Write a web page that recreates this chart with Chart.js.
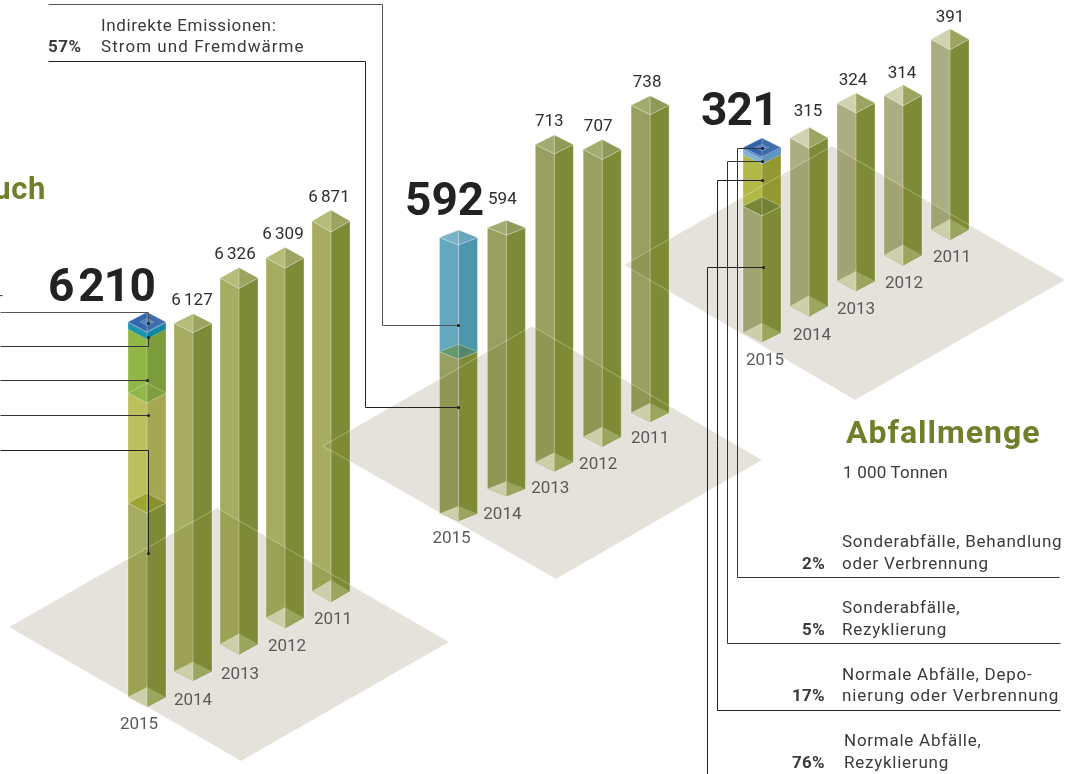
<!DOCTYPE html>
<html lang="de">
<head>
<meta charset="utf-8">
<title>Energieverbrauch, Emissionen, Abfallmenge</title>
<script src="https://cdn.jsdelivr.net/npm/chart.js@4"></script>
<style>
html,body{margin:0;padding:0;width:1066px;height:774px;background:#fff;overflow:hidden}
#stage{position:relative;width:1066px;height:774px;overflow:hidden;font-family:Roboto,sans-serif}
canvas{position:absolute;left:0;top:0}
.t{position:absolute;white-space:nowrap;line-height:1.2;color:#3a3a3a;z-index:10}
</style>
</head>
<body>
<div id="stage"></div>
<script>
// ---- data ----
const years = ["2015", "2014", "2013", "2012", "2011"];

// printed values
const energyValues = ["6 210", "6 127", "6 326", "6 309", "6 871"];
const emissionValues = ["592", "594", "713", "707", "738"];
const wasteValues = ["321", "315", "324", "314", "391"];

// bar heights as the source graphic draws them, in axis units of each panel
// (the graphic is not strictly to scale, so they differ a little from the printed values)
const energyBase = [3213, 5763, 6061, 5961, 6127];
const energySeg2 = [1821, null, null, null, null];
const energySeg3 = [1060, null, null, null, null];
const energySeg4 = [99, null, null, null, null];
const energySeg5 = [17, null, null, null, null];

const emissionBase = [347, 560, 681, 616, 659];
const emissionSeg2 = [245, null, null, null, null];

const wasteBase = [219, 292, 309, 277, 330];
const wasteSeg2 = [90, null, null, null, null];
const wasteSeg3 = [10, null, null, null, null];
const wasteSeg4 = [2, null, null, null, null];

// ---- styles and layout ----
const olive1 = {l:"rgba(114,125,6,.63)", r:"rgba(122,135,48,.97)", tl:"#b6bb78", tr:"#9ca45f", bl:"#cdcfab", br:"#9aa55e", show:true};
const olive2 = {l:"rgba(104,113,20,.68)", r:"rgba(122,135,48,.97)", tl:"#a4ab70", tr:"#8f9a58", bl:"#cdcfab", br:"#9aa55e", show:true};
const olive3 = {l:"rgba(120,125,50,.62)", r:"rgba(122,135,48,.97)", tl:"#d0d2b0", tr:"#9ca45f", bl:"#cdcfab", br:"#9aa55e", show:true};

const panels = [
  { series:[energyBase, energySeg2, energySeg3, energySeg4, energySeg5], values:energyValues, total:6210, drawnPx:375,
    x0:147, step:46, base0:707, lift:26.25, depth:[10,9.5,10.5,10.5,11], vdx:[0,-1,-4,-2,-2], vgap:[0,9,8,8,8], ydx:[-8,0,1,2,2], yb:[22,24,24,23,22],
    main:[olive1,olive1,olive1,olive1,olive1],
    segs:[{l:"rgba(114,125,6,.63)",r:"rgba(122,135,48,.97)",tl:"#9ca534",tr:"#88912f",bl:"#cdcfab",br:"#9aa55e",show:true},
          {l:"#bbc05c",r:"#a5a852",tl:"#93b74a",tr:"#7f9f3e",show:true},
          {l:"#90b645",r:"#7b9c3b"},
          {l:"#1596ae",r:"#0f87a3"},
          {l:"#2f62ac",r:"#2f62ac",tl:"#3368b0",tr:"#3e6eae",show:true,inner:true}] },
  { series:[emissionBase, emissionSeg2], values:emissionValues, total:592, drawnPx:276,
    x0:458.5, step:47.9, base0:521, lift:24.75, depth:[7.5,7.5,9.5,10,9.5], vdx:[0,-4,-5,-4,-3], vgap:[0,16,9,9,9], ydx:[-7,-4,-4,-4,0], yb:[22,23,21,22,21],
    main:[olive2,olive2,olive2,olive2,olive2],
    segs:[{l:"rgba(104,113,20,.68)",r:"rgba(122,135,48,.97)",tl:"#66986e",tr:"#55876f",bl:"#cdcfab",br:"#9aa55e",show:true},
          {l:"#63a8bc",r:"#4e96ac",tl:"#7ab3c8",tr:"#68a5ba",show:true}] },
  { series:[wasteBase, wasteSeg2, wasteSeg3, wasteSeg4], values:wasteValues, total:321, drawnPx:185,
    x0:762, step:47, base0:342, lift:25.5, depth:[9.5,10.5,10,10.5,10.5], vdx:[0,-1,-3,-1,0], vgap:[0,11,8,7,7], ydx:[3,3,0,1,2], yb:[23,23,23,22,22],
    main:[olive3,olive3,olive3,olive3,olive3],
    segs:[{l:"rgba(120,125,50,.62)",r:"rgba(122,135,48,.97)",tl:"#7a8637",tr:"#748033",bl:"#cdcfab",br:"#9aa55e",show:true},
          {l:"#b2b846",r:"#949832"},
          {l:"#82b4d8",r:"#5f96bf"},
          {l:"#2f62ac",r:"#2f62ac",tl:"#3264ae",tr:"#3e6eae",show:true,inner:true}] }
];

const floors = [
  [[9,627],[217,508],[449,642],[241,761]],
  [[323,446],[532,326],[762,460],[556,579]],
  [[624,265],[832,146],[1065,280],[855,400]]
];

// leader lines: annotation paths, the last point carries the dot
const leaders = [
  {c:"#555", p:[[48,4],[382,4],[382,325],[458,325]]},
  {c:"#222", p:[[48,61],[365,61],[365,407],[458,407]]},
  {c:"#555", p:[[0,312],[148,312],[148,323]]},
  {c:"#333", p:[[0,346],[148,346],[148,337]]},
  {c:"#333", p:[[0,380],[147,380]]},
  {c:"#333", p:[[0,415],[148,415]]},
  {c:"#222", p:[[0,450],[148,450],[148,553]]},
  {c:"#333", p:[[1059,577],[737,577],[737,148],[762,148]]},
  {c:"#333", p:[[1060,643],[727,643],[727,161],[762,161]]},
  {c:"#222", p:[[1060,710],[717,710],[717,180],[762,180]]},
  {c:"#222", p:[[707,774],[707,267],[763,267]]}
];

const olive = "#70802a", ink = "#222220";
const texts = [
  {t:"Energieverbrauch", r:46, b:199, s:31, w:700, c:olive, ls:.6},
  {t:"-", x:-1, b:300, s:14, c:"#444"},
  {t:"6 210", x:48, b:301, s:46, w:700, c:ink, ws:-6, ls:-.8},
  {t:"592", x:405, b:215, s:46, w:700, c:ink},
  {t:"321", x:701, b:125, s:46, w:700, c:ink, ls:-.8},
  {t:"Indirekte Emissionen:", x:101, b:31, s:17, ls:.65},
  {t:"Strom und Fremdwärme", x:101, b:52, s:17, ls:1.05},
  {t:"57%", x:48, b:52, s:17, w:700, ls:.5},
  {t:"Abfallmenge", x:846, b:443, s:32, w:700, c:olive, ls:1},
  {t:"1 000 Tonnen", x:843, b:478, s:17, ls:.2},
  {t:"Sonderabfälle, Behandlung", x:842, b:547, s:17, ls:.75},
  {t:"oder Verbrennung", x:842, b:569, s:17, ls:.75},
  {t:"2%", r:825, b:569, s:17, w:700, ls:.3},
  {t:"Sonderabfälle,", x:842, b:613, s:17, ls:.75},
  {t:"Rezyklierung", x:842, b:635, s:17, ls:.75},
  {t:"5%", r:825, b:635, s:17, w:700, ls:.3},
  {t:"Normale Abfälle, Depo-", x:842, b:680, s:17, ls:.75},
  {t:"nierung oder Verbrennung", x:842, b:701, s:17, ls:.9},
  {t:"17%", r:825, b:701, s:17, w:700, ls:.3},
  {t:"Normale Abfälle,", x:844, b:746, s:17, ls:.75},
  {t:"Rezyklierung", x:844, b:768, s:17, ls:.75},
  {t:"76%", r:825, b:768, s:17, w:700, ls:.3}
];

const W = 1066, H = 774, BAR = 38;
const stage = document.getElementById("stage");

texts.forEach(o => {
  const d = document.createElement("div");
  d.className = "t";
  d.textContent = o.t;
  d.style.fontSize = o.s + "px";
  d.style.fontWeight = o.w || 400;
  d.style.top = (o.b - 0.941 * o.s) + "px";
  if (o.r !== undefined) d.style.right = (W - o.r) + "px"; else d.style.left = o.x + "px";
  if (o.c) d.style.color = o.c;
  if (o.ls !== undefined) d.style.letterSpacing = o.ls + "px";
  if (o.ws) d.style.wordSpacing = o.ws + "px";
  stage.appendChild(d);
});

function poly(ctx, pts, fill, stroke) {
  ctx.beginPath();
  pts.forEach((p, i) => i ? ctx.lineTo(p[0], p[1]) : ctx.moveTo(p[0], p[1]));
  ctx.closePath();
  if (fill) { ctx.fillStyle = fill; ctx.fill(); }
  if (stroke) { ctx.strokeStyle = stroke; ctx.lineWidth = .7; ctx.stroke(); }
}

function drawFloors(ctx) { floors.forEach(f => poly(ctx, f, "#e4e2da")); }

function drawFloorEdges(ctx) {
  floors.forEach(f => poly(ctx, f, null, "rgba(255,255,255,.45)"));
}

function drawLeaders(ctx) {
  leaders.forEach(l => {
    ctx.beginPath();
    l.p.forEach((p, i) => {
      const x = Math.round(p[0]) + .5, y = Math.round(p[1]) + .5;
      i ? ctx.lineTo(x, y) : ctx.moveTo(x, y);
    });
    ctx.strokeStyle = l.c; ctx.lineWidth = 1; ctx.stroke();
    const e = l.p[l.p.length - 1];
    ctx.beginPath(); ctx.arc(e[0] + .5, e[1] + .5, 1.6, 0, 7); ctx.fillStyle = "#222"; ctx.fill();
  });
}

const EDGE = "rgba(255,255,255,.38)";

function drawWalls(ctx, cx, hw, y0, y1, d, s, isBottom) {
  poly(ctx, [[cx-hw,y0-d],[cx,y0],[cx,y1],[cx-hw,y1-d]], s.l);
  poly(ctx, [[cx+hw,y0-d],[cx,y0],[cx,y1],[cx+hw,y1-d]], s.r);
  if (isBottom) {
    poly(ctx, [[cx-hw,y0-d],[cx,y0-2*d],[cx,y0]], s.bl);
    poly(ctx, [[cx+hw,y0-d],[cx,y0-2*d],[cx,y0]], s.br);
  }
  ctx.strokeStyle = EDGE; ctx.lineWidth = .8;
  ctx.beginPath();
  ctx.moveTo(cx, y0); ctx.lineTo(cx, y1);
  ctx.moveTo(cx-hw, y0-d); ctx.lineTo(cx-hw, y1-d);
  ctx.moveTo(cx+hw, y0-d); ctx.lineTo(cx+hw, y1-d);
  ctx.stroke();
}

function drawTop(ctx, cx, hw, y1, d, s) {
  if (!s.show) return;
  poly(ctx, [[cx-hw,y1-d],[cx,y1-2*d],[cx,y1]], s.tl);
  poly(ctx, [[cx+hw,y1-d],[cx,y1-2*d],[cx,y1]], s.tr);
  ctx.strokeStyle = EDGE; ctx.lineWidth = .8;
  ctx.beginPath();
  ctx.moveTo(cx-hw, y1-d); ctx.lineTo(cx, y1); ctx.lineTo(cx+hw, y1-d);
  ctx.lineTo(cx, y1-2*d); ctx.lineTo(cx-hw, y1-d);
  ctx.moveTo(cx, y1-2*d); ctx.lineTo(cx, y1);
  ctx.stroke();
  if (s.inner) {
    poly(ctx, [[cx-hw*.5,y1-d],[cx,y1-d*1.5],[cx+hw*.5,y1-d],[cx,y1-d*.5]], "rgba(130,170,210,.45)", "rgba(30,50,100,.5)");
  }
}

function isoPlugin(panel, idx) {
  return {
    id: "iso" + idx,
    beforeDatasetsDraw(chart) { if (idx === 0) drawFloors(chart.ctx); },
    afterDatasetsDraw(chart) {
      const ctx = chart.ctx;
      ctx.save();
      for (let i = years.length - 1; i >= 0; i--) {
        const lift = i * panel.lift, d = panel.depth[i];
        let cx = 0, top = 0;
        const parts = [];
        chart.data.datasets.forEach((ds, k) => {
          if (ds.data[i] == null) return;
          const el = chart.getDatasetMeta(k).data[i];
          parts.push({ el, k, s: (i === 0) ? panel.segs[k] : panel.main[i] });
        });
        parts.forEach(p => {
          cx = p.el.x; top = p.el.y - lift;
          drawWalls(ctx, cx, p.el.width / 2, p.el.base - lift, top, d, p.s, p.k === 0);
        });
        parts.forEach(p => drawTop(ctx, p.el.x, p.el.width / 2, p.el.y - lift, d, p.s));
        ctx.textAlign = "center"; ctx.textBaseline = "alphabetic";
        ctx.font = "400 17px Roboto, sans-serif";
        ctx.wordSpacing = "-1px";
        if (i > 0) {
          ctx.fillStyle = "#2e2e2e";
          ctx.fillText(panel.values[i], cx + panel.vdx[i], top - 2 * d - panel.vgap[i]);
        }
        ctx.fillStyle = "#5a5a5a";
        const bottom = chart.scales.y.getPixelForValue(0) - lift;
        ctx.fillText(years[i], cx + panel.ydx[i], bottom + panel.yb[i]);
      }
      if (idx === panels.length - 1) { drawFloorEdges(ctx); drawLeaders(ctx); }
      ctx.restore();
    }
  };
}

panels.forEach((panel, idx) => {
  const cv = document.createElement("canvas");
  cv.width = W; cv.height = H;
  stage.appendChild(cv);
  const left = panel.x0 - panel.step / 2;
  new Chart(cv, {
    type: "bar",
    data: {
      labels: years,
      datasets: panel.series.map(v => ({ data: v, backgroundColor: "transparent", borderWidth: 0, barThickness: BAR }))
    },
    options: {
      responsive: false,
      animation: false,
      events: [],
      layout: { padding: { left, right: W - left - panel.step * years.length, top: 0, bottom: H - panel.base0 } },
      plugins: { legend: { display: false }, tooltip: { enabled: false } },
      scales: {
        x: { display: false, stacked: true, offset: true },
        y: { display: false, stacked: true, min: 0, max: panel.base0 * panel.total / panel.drawnPx }
      }
    },
    plugins: [isoPlugin(panel, idx)]
  });
});
</script>
</body>
</html>
